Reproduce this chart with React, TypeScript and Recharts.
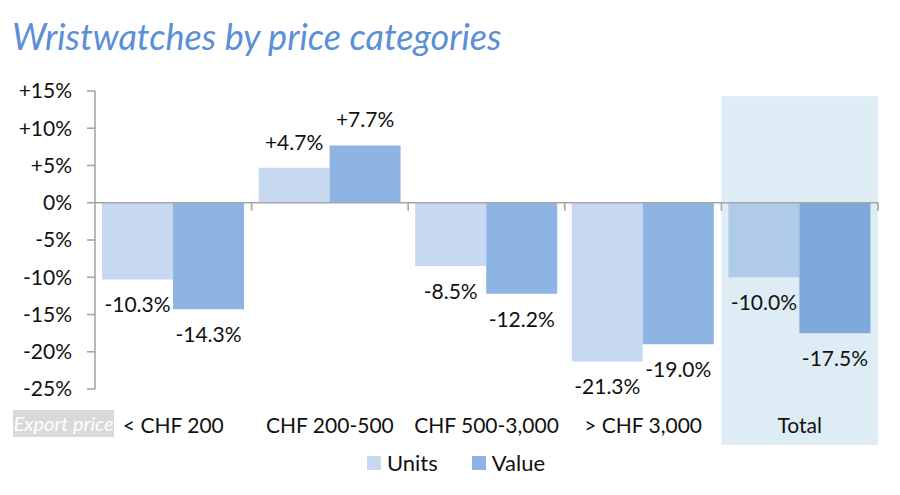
import {
  BarChart,
  Bar,
  XAxis,
  YAxis,
  ReferenceLine,
  ReferenceArea,
  Legend,
  LabelList,
  Cell,
} from "recharts";

const categories = ["< CHF 200", "CHF 200-500", "CHF 500-3,000", "> CHF 3,000", "Total"];
const units = [-10.3, 4.7, -8.5, -21.3, -10.0];
const value = [-14.3, 7.7, -12.2, -19.0, -17.5];
const yTicks = [-25, -20, -15, -10, -5, 0, 5, 10, 15];

const rows = categories.map((name, i) => ({ name, units: units[i], value: value[i] }));

const FONT = "Lato, 'Open Sans', sans-serif";
const AXIS = "#a6a6a6";
const UNITS = "#c6d9f1";
const UNITS_TOTAL = "#afcbe8";
const VALUE = "#8eb4e3";
const VALUE_TOTAL = "#7da9db";

const pct = (v: number) => (v > 0 ? "+" : "") + v.toFixed(1) + "%";
const tickPct = (v: number) => (v > 0 ? "+" : "") + v + "%";

// zero line with the little category ticks hanging under it
function ZeroLine(props: any) {
  const { x1, x2, y1 } = props;
  const n = categories.length;
  const step = (x2 - x1) / n;
  return (
    <g>
      <line x1={x1} x2={x2} y1={y1} y2={y1} stroke={AXIS} strokeWidth={1.6} />
      {categories.map((_, i) => (
        <line
          key={i}
          x1={x1 + step * (i + 1)}
          x2={x1 + step * (i + 1)}
          y1={y1}
          y2={y1 + 8}
          stroke={AXIS}
          strokeWidth={1.6}
        />
      ))}
    </g>
  );
}

function LegendBox() {
  const items = [
    { label: "Units", color: UNITS },
    { label: "Value", color: VALUE },
  ];
  return (
    <div style={{ display: "flex", justifyContent: "center", paddingLeft: 46, fontFamily: FONT, fontSize: 22 }}>
      {items.map((it) => (
        <div key={it.label} style={{ display: "flex", alignItems: "center", marginRight: 34 }}>
          <span style={{ width: 14, height: 14, background: it.color, marginRight: 6, display: "inline-block" }} />
          <span style={{ color: "#111" }}>{it.label}</span>
        </div>
      ))}
    </div>
  );
}

export default function App() {
  return (
    <div style={{ position: "absolute", left: 0, top: 0, width: 900, height: 495, background: "#fff", fontFamily: FONT }}>
      <div
        style={{
          position: "absolute",
          left: 12,
          top: 18,
          fontSize: 36,
          lineHeight: 1,
          fontStyle: "italic",
          color: "#5b8fd7",
          whiteSpace: "nowrap",
        }}
      >
        Wristwatches by price categories
      </div>

      <BarChart
        width={900}
        height={495}
        data={rows}
        margin={{ top: 91, right: 22, bottom: 46, left: 0 }}
        barCategoryGap={7}
        barGap={0}
      >
        <ReferenceArea
          x1="Total"
          x2="Total"
          y1={14.3}
          y2={-32.5}
          ifOverflow="visible"
          fill="#deedf5"
          fillOpacity={1}
          stroke="none"
        />
        <XAxis
          dataKey="name"
          axisLine={false}
          tickLine={false}
          height={60}
          tickMargin={23}
          interval={0}
          tick={{ fontSize: 21, fill: "#111", fontFamily: FONT }}
        />
        <YAxis
          width={95}
          domain={[-25, 15]}
          ticks={yTicks}
          tickFormatter={tickPct}
          axisLine={{ stroke: AXIS, strokeWidth: 1.6 }}
          tickLine={{ stroke: AXIS, strokeWidth: 1.6 }}
          tickSize={8}
          tickMargin={15}
          tick={{ fontSize: 21, fill: "#111", fontFamily: FONT }}
        />
        <Bar dataKey="units" name="Units" fill={UNITS} isAnimationActive={false}>
          {rows.map((_, i) => (
            <Cell key={i} fill={i === rows.length - 1 ? UNITS_TOTAL : UNITS} />
          ))}
          <LabelList
            dataKey="units"
            position="top"
            offset={18}
            formatter={(v: any) => pct(Number(v))}
            style={{ fontSize: 21, fill: "#111", fontFamily: FONT }}
          />
        </Bar>
        <Bar dataKey="value" name="Value" fill={VALUE} isAnimationActive={false}>
          {rows.map((_, i) => (
            <Cell key={i} fill={i === rows.length - 1 ? VALUE_TOTAL : VALUE} />
          ))}
          <LabelList
            dataKey="value"
            position="top"
            offset={18}
            formatter={(v: any) => pct(Number(v))}
            style={{ fontSize: 21, fill: "#111", fontFamily: FONT }}
          />
        </Bar>
        <ReferenceLine y={0} shape={ZeroLine} />
        <Legend
          layout="horizontal"
          verticalAlign="middle"
          align="center"
          content={() => <LegendBox />}
          wrapperStyle={{ top: 449, left: 0, width: 900 }}
        />
      </BarChart>

      <div
        style={{
          position: "absolute",
          left: 13,
          top: 410,
          width: 101,
          height: 27,
          background: "#d9d9d9",
          color: "#fff",
          fontStyle: "italic",
          fontSize: 20,
          lineHeight: "27px",
          textAlign: "center",
          whiteSpace: "nowrap",
        }}
      >
        Export price
      </div>
    </div>
  );
}
